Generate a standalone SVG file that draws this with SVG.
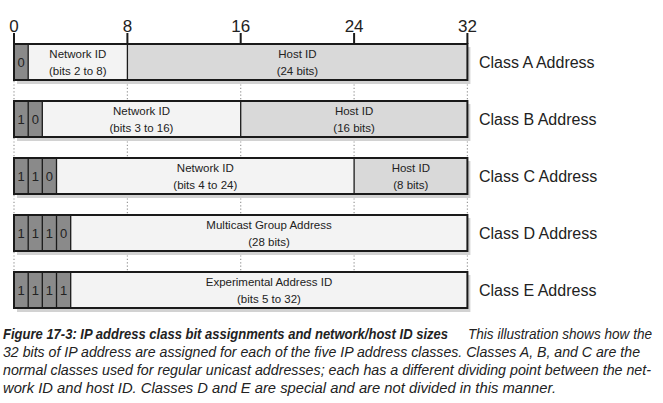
<svg xmlns="http://www.w3.org/2000/svg" width="663" height="403" viewBox="0 0 663 403">
<style>
.box{stroke:#1a1a1a;stroke-width:2}
.bit{fill:#8a8a8a}
.net{fill:#f3f3f3}
.host{fill:#d9d9d9}
.shadow{fill:#d2d2d2}
.sep{stroke:#1a1a1a;stroke-width:1.3}
.t{font-family:"Liberation Sans",Arial,sans-serif;fill:#222}
.in{font-size:11.5px;text-anchor:middle}
.dig{font-size:13px;text-anchor:middle}
.cls{font-size:16px}
.tick{font-size:17px;text-anchor:middle}
.cap{font-size:14px;font-style:italic}
.dot{stroke:#999;stroke-width:1.2;stroke-dasharray:1.2,2.2;fill:none}
</style>
<g id="scale">
<g stroke="#1a1a1a" stroke-width="2">
<line x1="14" y1="33" x2="14" y2="44"/>
<line x1="127.4" y1="33" x2="127.4" y2="44"/>
<line x1="240.7" y1="33" x2="240.7" y2="44"/>
<line x1="354.1" y1="33" x2="354.1" y2="44"/>
<line x1="467.4" y1="33" x2="467.4" y2="44"/>
</g>
<text class="t tick" x="14" y="32">0</text>
<text class="t tick" x="127.4" y="32">8</text>
<text class="t tick" x="240.7" y="32">16</text>
<text class="t tick" x="354.1" y="32">24</text>
<text class="t tick" x="467.4" y="32">32</text>
</g>
<g id="connectors">
<path class="dot" d="M14 81V101M127.4 81V101M240.7 81V101M354.1 81V101M467.4 81V101
M14 138V158M127.4 138V158M240.7 138V158M354.1 138V158M467.4 138V158
M14 195V215M127.4 195V215M240.7 195V215M354.1 195V215M467.4 195V215
M14 252V272M127.4 252V272M240.7 252V272M354.1 252V272M467.4 252V272"/>
</g>
<g id="classA">
<rect class="shadow" x="17" y="47" width="453.4" height="37"/>
<rect class="bit" x="14" y="44" width="14.2" height="36"/>
<rect class="net" x="28.2" y="44" width="99.2" height="36"/>
<rect class="host" x="127.4" y="44" width="340" height="36"/>
<line class="sep" x1="28.2" y1="44" x2="28.2" y2="80"/>
<line class="sep" x1="127.4" y1="44" x2="127.4" y2="80"/>
<rect class="box" x="14" y="44" width="453.4" height="36" fill="none"/>
<text class="t dig" x="21.1" y="67">0</text>
<text class="t in" x="77.8" y="58">Network ID</text>
<text class="t in" x="77.8" y="75">(bits 2 to 8)</text>
<text class="t in" x="297.4" y="58">Host ID</text>
<text class="t in" x="297.4" y="75">(24 bits)</text>
<text class="t cls" x="479" y="68">Class A Address</text>
</g>
<g id="classB">
<rect class="shadow" x="17" y="104" width="453.4" height="37"/>
<rect class="bit" x="14" y="101" width="28.3" height="36"/>
<rect class="net" x="42.3" y="101" width="198.4" height="36"/>
<rect class="host" x="240.7" y="101" width="226.7" height="36"/>
<line class="sep" x1="28.2" y1="101" x2="28.2" y2="137"/>
<line class="sep" x1="42.3" y1="101" x2="42.3" y2="137"/>
<line class="sep" x1="240.7" y1="101" x2="240.7" y2="137"/>
<rect class="box" x="14" y="101" width="453.4" height="36" fill="none"/>
<text class="t dig" x="21.1" y="124">1</text>
<text class="t dig" x="35.3" y="124">0</text>
<text class="t in" x="141.5" y="115">Network ID</text>
<text class="t in" x="141.5" y="132">(bits 3 to 16)</text>
<text class="t in" x="354.1" y="115">Host ID</text>
<text class="t in" x="354.1" y="132">(16 bits)</text>
<text class="t cls" x="479" y="125">Class B Address</text>
</g>
<g id="classC">
<rect class="shadow" x="17" y="161" width="453.4" height="37"/>
<rect class="bit" x="14" y="158" width="42.5" height="36"/>
<rect class="net" x="56.5" y="158" width="297.6" height="36"/>
<rect class="host" x="354.1" y="158" width="113.3" height="36"/>
<line class="sep" x1="28.2" y1="158" x2="28.2" y2="194"/>
<line class="sep" x1="42.3" y1="158" x2="42.3" y2="194"/>
<line class="sep" x1="56.5" y1="158" x2="56.5" y2="194"/>
<line class="sep" x1="354.1" y1="158" x2="354.1" y2="194"/>
<rect class="box" x="14" y="158" width="453.4" height="36" fill="none"/>
<text class="t dig" x="21.1" y="181">1</text>
<text class="t dig" x="35.3" y="181">1</text>
<text class="t dig" x="49.4" y="181">0</text>
<text class="t in" x="205.3" y="172">Network ID</text>
<text class="t in" x="205.3" y="189">(bits 4 to 24)</text>
<text class="t in" x="410.8" y="172">Host ID</text>
<text class="t in" x="410.8" y="189">(8 bits)</text>
<text class="t cls" x="479" y="182">Class C Address</text>
</g>
<g id="classD">
<rect class="shadow" x="17" y="218" width="453.4" height="37"/>
<rect class="bit" x="14" y="215" width="56.7" height="36"/>
<rect class="net" x="70.7" y="215" width="396.7" height="36"/>
<line class="sep" x1="28.2" y1="215" x2="28.2" y2="251"/>
<line class="sep" x1="42.3" y1="215" x2="42.3" y2="251"/>
<line class="sep" x1="56.5" y1="215" x2="56.5" y2="251"/>
<line class="sep" x1="70.7" y1="215" x2="70.7" y2="251"/>
<rect class="box" x="14" y="215" width="453.4" height="36" fill="none"/>
<text class="t dig" x="21.1" y="238">1</text>
<text class="t dig" x="35.3" y="238">1</text>
<text class="t dig" x="49.4" y="238">1</text>
<text class="t dig" x="63.6" y="238">0</text>
<text class="t in" x="269" y="229">Multicast Group Address</text>
<text class="t in" x="269" y="246">(28 bits)</text>
<text class="t cls" x="479" y="239">Class D Address</text>
</g>
<g id="classE">
<rect class="shadow" x="17" y="275" width="453.4" height="37"/>
<rect class="bit" x="14" y="272" width="56.7" height="36"/>
<rect class="net" x="70.7" y="272" width="396.7" height="36"/>
<line class="sep" x1="28.2" y1="272" x2="28.2" y2="308"/>
<line class="sep" x1="42.3" y1="272" x2="42.3" y2="308"/>
<line class="sep" x1="56.5" y1="272" x2="56.5" y2="308"/>
<line class="sep" x1="70.7" y1="272" x2="70.7" y2="308"/>
<rect class="box" x="14" y="272" width="453.4" height="36" fill="none"/>
<text class="t dig" x="21.1" y="295">1</text>
<text class="t dig" x="35.3" y="295">1</text>
<text class="t dig" x="49.4" y="295">1</text>
<text class="t dig" x="63.6" y="295">1</text>
<text class="t in" x="269" y="286">Experimental Address ID</text>
<text class="t in" x="269" y="303">(bits 5 to 32)</text>
<text class="t cls" x="479" y="296">Class E Address</text>
</g>
<g id="caption">
<text class="t cap" x="3" y="339" font-weight="bold" textLength="445" lengthAdjust="spacingAndGlyphs">Figure 17-3: IP address class bit assignments and network/host ID sizes</text>
<text class="t cap" x="468" y="339" textLength="184" lengthAdjust="spacingAndGlyphs">This illustration shows how the</text>
<text class="t cap" x="3" y="357" textLength="637" lengthAdjust="spacingAndGlyphs">32 bits of IP address are assigned for each of the five IP address classes. Classes A, B, and C are the</text>
<text class="t cap" x="3" y="375" textLength="648" lengthAdjust="spacingAndGlyphs">normal classes used for regular unicast addresses; each has a different dividing point between the net-</text>
<text class="t cap" x="3" y="393" textLength="553" lengthAdjust="spacingAndGlyphs">work ID and host ID. Classes D and E are special and are not divided in this manner.</text>
</g>
</svg>
